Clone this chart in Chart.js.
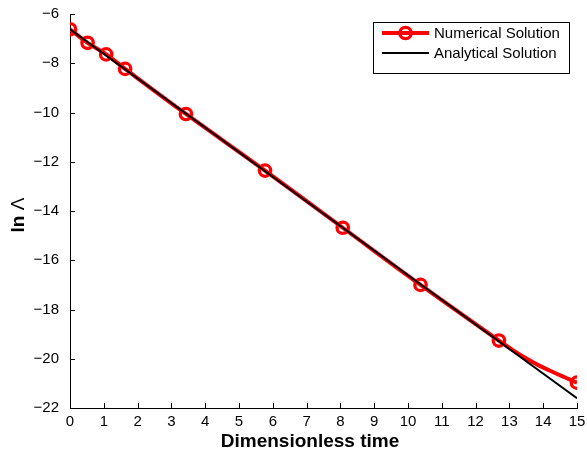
<!DOCTYPE html>
<html>
<head>
<meta charset="utf-8">
<script src="https://cdn.jsdelivr.net/npm/chart.js@4.4.1/dist/chart.umd.min.js"></script>
<style>
  html, body { margin: 0; padding: 0; background: #fff; }
  #wrap { width: 587px; height: 452px; }
</style>
</head>
<body>
<div id="wrap"><canvas id="lnChart" width="587" height="452"></canvas></div>
<script>
// numerical solution: curve samples, circles only where numMarker is 1
const numTime   = [0, 0.52, 1.07, 1.63, 3.43, 5.77, 8.07, 10.37, 12.69, 13.1, 13.5, 13.9, 14.3, 14.65, 15];
const numLn     = [-6.62, -7.17, -7.64, -8.23, -10.06, -12.36, -14.68, -17.0, -19.26, -19.65, -19.99, -20.29, -20.55, -20.76, -20.97];
const numMarker = [1, 1, 1, 1, 1, 1, 1, 1, 1, 0, 0, 0, 0, 0, 1];

// analytical solution (straight line)
const anaTime = [0, 15];
const anaLn   = [-6.62, -21.6];

const xTicks = [0, 1, 2, 3, 4, 5, 6, 7, 8, 9, 10, 11, 12, 13, 14, 15];
const yTicks = [-22, -20, -18, -16, -14, -12, -10, -8, -6];

const seriesNames = ['Numerical Solution', 'Analytical Solution'];
const FONT = "'Liberation Sans', Arial, Helvetica, sans-serif";

const toPts = (xs, ys) => xs.map((x, i) => ({ x: x, y: ys[i] }));
const minus = v => String(v).replace('-', '\u2212');

// inward tick marks, axis titles and boxed legend
const decorPlugin = {
    id: 'decor',
    afterDraw(chart) {
        const ctx = chart.ctx;
        const xs = chart.scales.x, ys = chart.scales.y;
        const area = chart.chartArea;

        ctx.save();
        ctx.strokeStyle = '#000';
        ctx.lineWidth = 1;
        ctx.beginPath();
        xTicks.forEach(t => {
            const px = Math.round(xs.getPixelForValue(t)) + 0.5;
            ctx.moveTo(px, area.bottom);
            ctx.lineTo(px, area.bottom - 5);
        });
        yTicks.forEach(t => {
            const py = Math.round(ys.getPixelForValue(t)) + 0.5;
            ctx.moveTo(area.left, py);
            ctx.lineTo(area.left + 5, py);
        });
        ctx.stroke();

        // x title
        ctx.fillStyle = '#000';
        ctx.font = 'bold 19px ' + FONT;
        ctx.textAlign = 'center';
        ctx.textBaseline = 'alphabetic';
        ctx.fillText('Dimensionless time', 310, 447);

        // y title: "ln" bold, Λ regular
        ctx.save();
        ctx.translate(24, 215);
        ctx.rotate(-Math.PI / 2);
        ctx.font = 'bold 19px ' + FONT;
        const w1 = ctx.measureText('ln ').width;
        ctx.font = '19px ' + FONT;
        const w2 = ctx.measureText('\u039B').width;
        ctx.textAlign = 'left';
        ctx.font = 'bold 19px ' + FONT;
        ctx.fillText('ln ', -(w1 + w2) / 2, 0);
        ctx.font = '19px ' + FONT;
        ctx.fillText('\u039B', -(w1 + w2) / 2 + w1, 0);
        ctx.restore();

        // legend
        const bx = 373.5, by = 22.5, bw = 196, bh = 51;
        ctx.fillStyle = '#fff';
        ctx.fillRect(bx, by, bw, bh);
        ctx.strokeStyle = '#000';
        ctx.lineWidth = 1;
        ctx.strokeRect(bx, by, bw, bh);

        const ds = chart.data.datasets;
        const rows = [33, 53];
        ctx.font = '15px ' + FONT;
        ctx.textAlign = 'left';
        ctx.textBaseline = 'middle';
        ds.forEach((d, i) => {
            const y = rows[i];
            ctx.strokeStyle = d.borderColor;
            ctx.lineWidth = d.borderWidth;
            ctx.beginPath();
            ctx.moveTo(382, y);
            ctx.lineTo(429, y);
            ctx.stroke();
            if (d.legendMarker) {
                ctx.lineWidth = 3.3;
                ctx.beginPath();
                ctx.arc(405.5, y, 5.7, 0, Math.PI * 2);
                ctx.stroke();
            }
            ctx.fillStyle = '#000';
            ctx.fillText(d.label, 434, y + 1);
        });
        ctx.restore();
    }
};

const config = {
    type: 'scatter',
    data: {
        datasets: [{
            label: seriesNames[0],
            data: toPts(numTime, numLn),
            showLine: true,
            borderColor: '#ff0000',
            borderWidth: 4,
            tension: 0.4,
            pointRadius: c => numMarker[c.dataIndex] ? 5.7 : 0,
            pointBorderWidth: 3.3,
            pointBorderColor: '#ff0000',
            pointBackgroundColor: 'rgba(0,0,0,0)',
            pointHoverRadius: c => numMarker[c.dataIndex] ? 5.7 : 0,
            legendMarker: true,
            order: 1
        }, {
            label: seriesNames[1],
            data: toPts(anaTime, anaLn),
            showLine: true,
            borderColor: '#000000',
            borderWidth: 2,
            pointRadius: 0,
            pointHoverRadius: 0,
            order: 0
        }]
    },
    options: {
        responsive: false,
        animation: false,
        layout: {
            padding: { left: 0, top: 14, right: 10, bottom: 0 }
        },
        plugins: {
            legend: { display: false },
            tooltip: { enabled: false }
        },
        scales: {
            x: {
                type: 'linear',
                min: 0,
                max: 15,
                afterFit: s => { s.height = 44; s.paddingLeft = 0; s.paddingRight = 0; },
                afterBuildTicks: s => { s.ticks = xTicks.map(v => ({ value: v })); },
                grid: { display: false, drawTicks: false },
                border: { display: true, color: '#000', width: 1 },
                ticks: {
                    color: '#000',
                    padding: 5,
                    maxRotation: 0,
                    font: { family: FONT, size: 15 },
                    callback: v => minus(v)
                }
            },
            y: {
                type: 'linear',
                min: -22,
                max: -6,
                afterFit: s => { s.width = 70; s.paddingTop = 0; s.paddingBottom = 0; },
                afterBuildTicks: s => { s.ticks = yTicks.map(v => ({ value: v })); },
                grid: { display: false, drawTicks: false },
                border: { display: true, color: '#000', width: 1 },
                ticks: {
                    color: '#000',
                    padding: 11,
                    font: { family: FONT, size: 15 },
                    callback: v => minus(v)
                }
            }
        }
    },
    plugins: [decorPlugin]
};

new Chart(document.getElementById('lnChart').getContext('2d'), config);
</script>
</body>
</html>
